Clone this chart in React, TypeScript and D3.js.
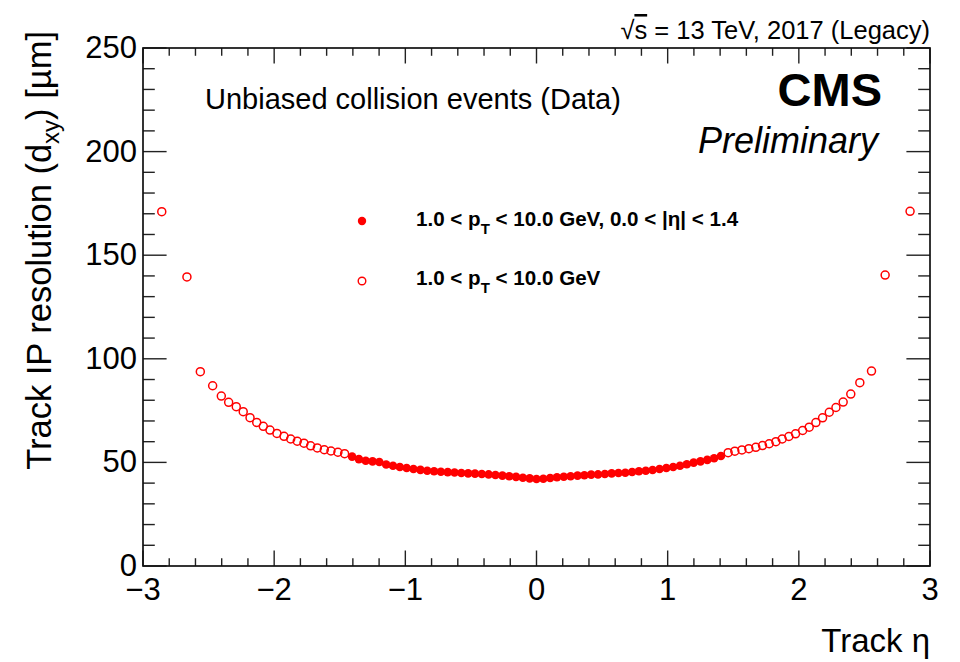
import React from 'react';
import * as d3 from 'd3';

// Track η bin centres and IP resolution (µm) for the barrel-only selection
const etaBarrel = [
  -1.406, -1.354, -1.302, -1.25, -1.198, -1.146, -1.094, -1.042, -0.99, -0.938,
  -0.885, -0.833, -0.781, -0.729, -0.677, -0.625, -0.573, -0.521, -0.469, -0.417,
  -0.365, -0.313, -0.26, -0.208, -0.156, -0.104, -0.052, 0,
  0.052, 0.104, 0.156, 0.208, 0.26, 0.313, 0.365, 0.417, 0.469, 0.521,
  0.573, 0.625, 0.677, 0.729, 0.781, 0.833, 0.885, 0.938, 0.99, 1.042,
  1.094, 1.146, 1.198, 1.25, 1.302, 1.354, 1.406,
];
const resBarrel = [
  52.8, 51.6, 50.8, 50.5, 50.2, 49.0, 48.4, 47.8, 47.3, 46.8,
  46.4, 46.0, 45.7, 45.5, 45.3, 45.1, 44.9, 44.7, 44.6, 44.4,
  44.2, 43.9, 43.6, 43.3, 43.0, 42.6, 42.3, 42.0,
  42.1, 42.5, 42.8, 43.1, 43.3, 43.6, 43.8, 44.1, 44.2, 44.4,
  44.7, 44.9, 45.0, 45.4, 45.7, 46.0, 46.3, 46.8, 47.3, 47.8,
  48.4, 49.1, 49.9, 50.5, 51.2, 52.0, 53.1,
];

// Full η range (outside the barrel region)
const etaAll = [
  -2.857, -2.665, -2.563, -2.469, -2.403, -2.347, -2.289, -2.236, -2.184, -2.133,
  -2.083, -2.032, -1.979, -1.925, -1.874, -1.824, -1.773, -1.722, -1.671, -1.618,
  -1.567, -1.514, -1.463,
  1.461, 1.512, 1.566, 1.619, 1.672, 1.723, 1.774, 1.825, 1.873, 1.924,
  1.975, 2.029, 2.079, 2.13, 2.181, 2.232, 2.283, 2.338, 2.396, 2.465,
  2.554, 2.658, 2.848,
];
const resAll = [
  171.0, 139.5, 93.8, 87.0, 82.0, 79.0, 76.9, 74.5, 71.6, 69.3,
  67.4, 65.6, 64.0, 62.6, 61.3, 60.2, 59.3, 58.0, 57.0, 56.1,
  55.5, 54.9, 54.2,
  54.7, 55.4, 56.0, 56.6, 57.3, 58.1, 59.0, 60.0, 61.3, 62.5,
  63.8, 65.4, 67.0, 69.2, 71.5, 74.2, 76.5, 79.1, 83.0, 88.5,
  94.1, 140.4, 171.2,
];

const xTickValues = [-3, -2, -1, 0, 1, 2, 3];
const xTickLabels = ['\u22123', '\u22122', '\u22121', '0', '1', '2', '3'];
const yTickValues = [0, 50, 100, 150, 200, 250];

const FONT = "'Liberation Sans', Arial, Helvetica, sans-serif";
const RED = '#ff0000';

const frame = { left: 143, right: 930, top: 48, bottom: 566 };

export default function App() {
  const x = d3.scaleLinear().domain([-3, 3]).range([frame.left, frame.right]);
  const y = d3.scaleLinear().domain([0, 250]).range([frame.bottom, frame.top]);

  const xMinor = x.ticks(30);
  const yMinor = y.ticks(25);
  const xMajLen = 15.5, xMinLen = 7.8, yMajLen = 23.6, yMinLen = 11.8;
  const tickStroke = '#222';

  const openPts = etaAll.map((e, i) => ({ e, v: resAll[i] }));
  const fillPts = etaBarrel.map((e, i) => ({ e, v: resBarrel[i] }));

  return (
    <svg width={960} height={662} style={{ position: 'absolute', left: 0, top: 0, background: '#fff' }}
      fontFamily={FONT}>
      <rect x={0} y={0} width={960} height={662} fill="#fff" />

      {/* ticks on all four sides */}
      <g stroke={tickStroke} strokeWidth={1.4}>
        {xMinor.map((t) => {
          const major = xTickValues.includes(Math.round(t * 10) / 10);
          const len = major ? xMajLen : xMinLen;
          return (
            <g key={'xt' + t}>
              <line x1={x(t)} x2={x(t)} y1={frame.bottom} y2={frame.bottom - len} />
              <line x1={x(t)} x2={x(t)} y1={frame.top} y2={frame.top + len} />
            </g>
          );
        })}
        {yMinor.map((t) => {
          const major = yTickValues.includes(t);
          const len = major ? yMajLen : yMinLen;
          return (
            <g key={'yt' + t}>
              <line x1={frame.left} x2={frame.left + len} y1={y(t)} y2={y(t)} />
              <line x1={frame.right} x2={frame.right - len} y1={y(t)} y2={y(t)} />
            </g>
          );
        })}
      </g>
      <rect x={frame.left} y={frame.top} width={frame.right - frame.left} height={frame.bottom - frame.top}
        fill="none" stroke="#111" strokeWidth={1.7} />

      {/* tick labels */}
      <g fontSize={31} fill="#000">
        {xTickValues.map((t, i) => (
          <text key={'xl' + t} x={x(t)} y={600} textAnchor="middle">{xTickLabels[i]}</text>
        ))}
        {yTickValues.map((t) => (
          <text key={'yl' + t} x={137} y={y(t) + 10} textAnchor="end">{t}</text>
        ))}
      </g>

      {/* axis titles */}
      <text x={930} y={652} textAnchor="end" fontSize={33}>Track η</text>
      <text transform="translate(51,31) rotate(-90)" textAnchor="end" fontSize={34.5}>
        Track IP resolution (d<tspan fontSize={24} dy={8}>xy</tspan><tspan dy={-8}>) [µm]</tspan>
      </text>

      {/* header */}
      <text x={930} y={39} textAnchor="end" fontSize={25.5}>
        √<tspan textDecoration="overline">s</tspan> = 13 TeV, 2017 (Legacy)
      </text>
      <text x={882} y={106} textAnchor="end" fontSize={47} fontWeight="bold">CMS</text>
      <text x={878} y={153} textAnchor="end" fontSize={36} fontStyle="italic">Preliminary</text>
      <text x={205} y={109} fontSize={29}>Unbiased collision events (Data)</text>

      {/* markers */}
      <g>
        {openPts.map((p, i) => (
          <circle key={'o' + i} cx={x(p.e)} cy={y(p.v)} r={4} fill="none" stroke={RED} strokeWidth={1.5} />
        ))}
        {fillPts.map((p, i) => (
          <circle key={'f' + i} cx={x(p.e)} cy={y(p.v)} r={4.3} fill={RED} />
        ))}
      </g>

      {/* legend */}
      <circle cx={362} cy={221} r={4.2} fill={RED} />
      <circle cx={362} cy={281} r={3.8} fill="none" stroke={RED} strokeWidth={1.4} />
      <g fontSize={20.6} fontWeight="bold">
        <text x={416} y={226}>
          1.0 &lt; p<tspan fontSize={15} dy={8}>T</tspan><tspan dy={-8}> &lt; 10.0 GeV, 0.0 &lt; |η| &lt; 1.4</tspan>
        </text>
        <text x={416} y={285}>
          1.0 &lt; p<tspan fontSize={15} dy={8}>T</tspan><tspan dy={-8}> &lt; 10.0 GeV</tspan>
        </text>
      </g>
    </svg>
  );
}
